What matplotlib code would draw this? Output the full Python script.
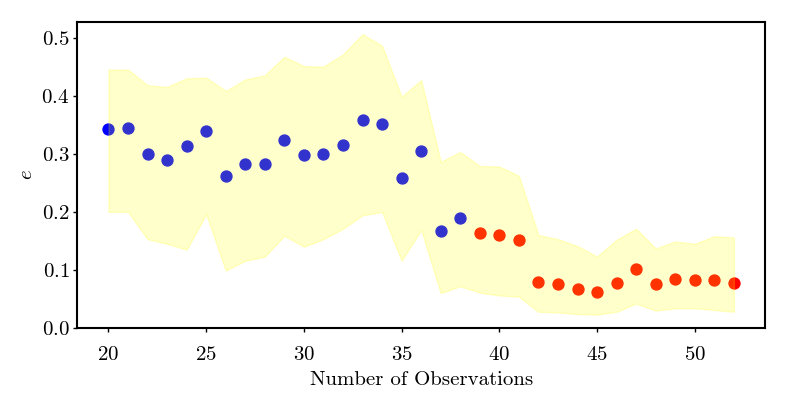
import numpy as np
import matplotlib
matplotlib.use("Agg")
import matplotlib.pyplot as plt

# computer-modern look
plt.rcParams['font.family'] = 'serif'
plt.rcParams['font.serif'] = ['cmr10', 'DejaVu Serif']
plt.rcParams['mathtext.fontset'] = 'cm'
plt.rcParams['axes.formatter.use_mathtext'] = True
plt.rcParams['axes.unicode_minus'] = False

# data
n_obs = list(range(20, 53))
e_mean = [0.342, 0.344, 0.300, 0.289, 0.313, 0.340, 0.262, 0.283, 0.283, 0.323,
          0.298, 0.300, 0.315, 0.358, 0.351, 0.259, 0.304, 0.167, 0.190, 0.163,
          0.160, 0.151, 0.079, 0.075, 0.068, 0.062, 0.078, 0.101, 0.075, 0.084,
          0.083, 0.083, 0.078]
e_upper = [0.445, 0.445, 0.418, 0.415, 0.430, 0.431, 0.408, 0.428, 0.435, 0.467,
           0.451, 0.450, 0.471, 0.506, 0.486, 0.398, 0.427, 0.286, 0.303, 0.279,
           0.278, 0.262, 0.160, 0.153, 0.141, 0.123, 0.152, 0.171, 0.137, 0.149,
           0.145, 0.158, 0.156]
e_lower = [0.200, 0.200, 0.153, 0.145, 0.135, 0.196, 0.099, 0.116, 0.123, 0.159,
           0.140, 0.153, 0.171, 0.194, 0.200, 0.116, 0.169, 0.060, 0.072, 0.061,
           0.056, 0.054, 0.028, 0.027, 0.024, 0.023, 0.028, 0.042, 0.030, 0.034,
           0.034, 0.031, 0.028]
n_blue = 19  # first 19 points (20..38) blue, rest red

x = np.array(n_obs)
y = np.array(e_mean)

fig = plt.figure(figsize=(7.88, 4.17), dpi=100)
ax = fig.add_axes([0.098, 0.2134, 0.873, 0.734])

ax.scatter(x[:n_blue], y[:n_blue], color='blue', s=62, zorder=2)
ax.scatter(x[n_blue:], y[n_blue:], color='red', s=62, zorder=2)
# yellow band sits on top of the dots, tinting them
ax.fill_between(x, e_lower, e_upper, color='yellow', alpha=0.2, zorder=3)

ax.set_xlim(18.4, 53.6)
ax.set_ylim(0, 0.527)
ax.set_xticks([20, 25, 30, 35, 40, 45, 50])
ax.set_yticks([0.0, 0.1, 0.2, 0.3, 0.4, 0.5])
ax.tick_params(labelsize=15, width=1.0, length=3)
ax.tick_params(axis='x', pad=10)
ax.tick_params(axis='y', pad=2.5)
for sp in ax.spines.values():
    sp.set_linewidth(1.5)

ax.set_xlabel('Number of Observations', fontsize=15, labelpad=5)
ax.set_ylabel('$e$', fontsize=15, labelpad=4)

fig.savefig('out.png', dpi=100)
